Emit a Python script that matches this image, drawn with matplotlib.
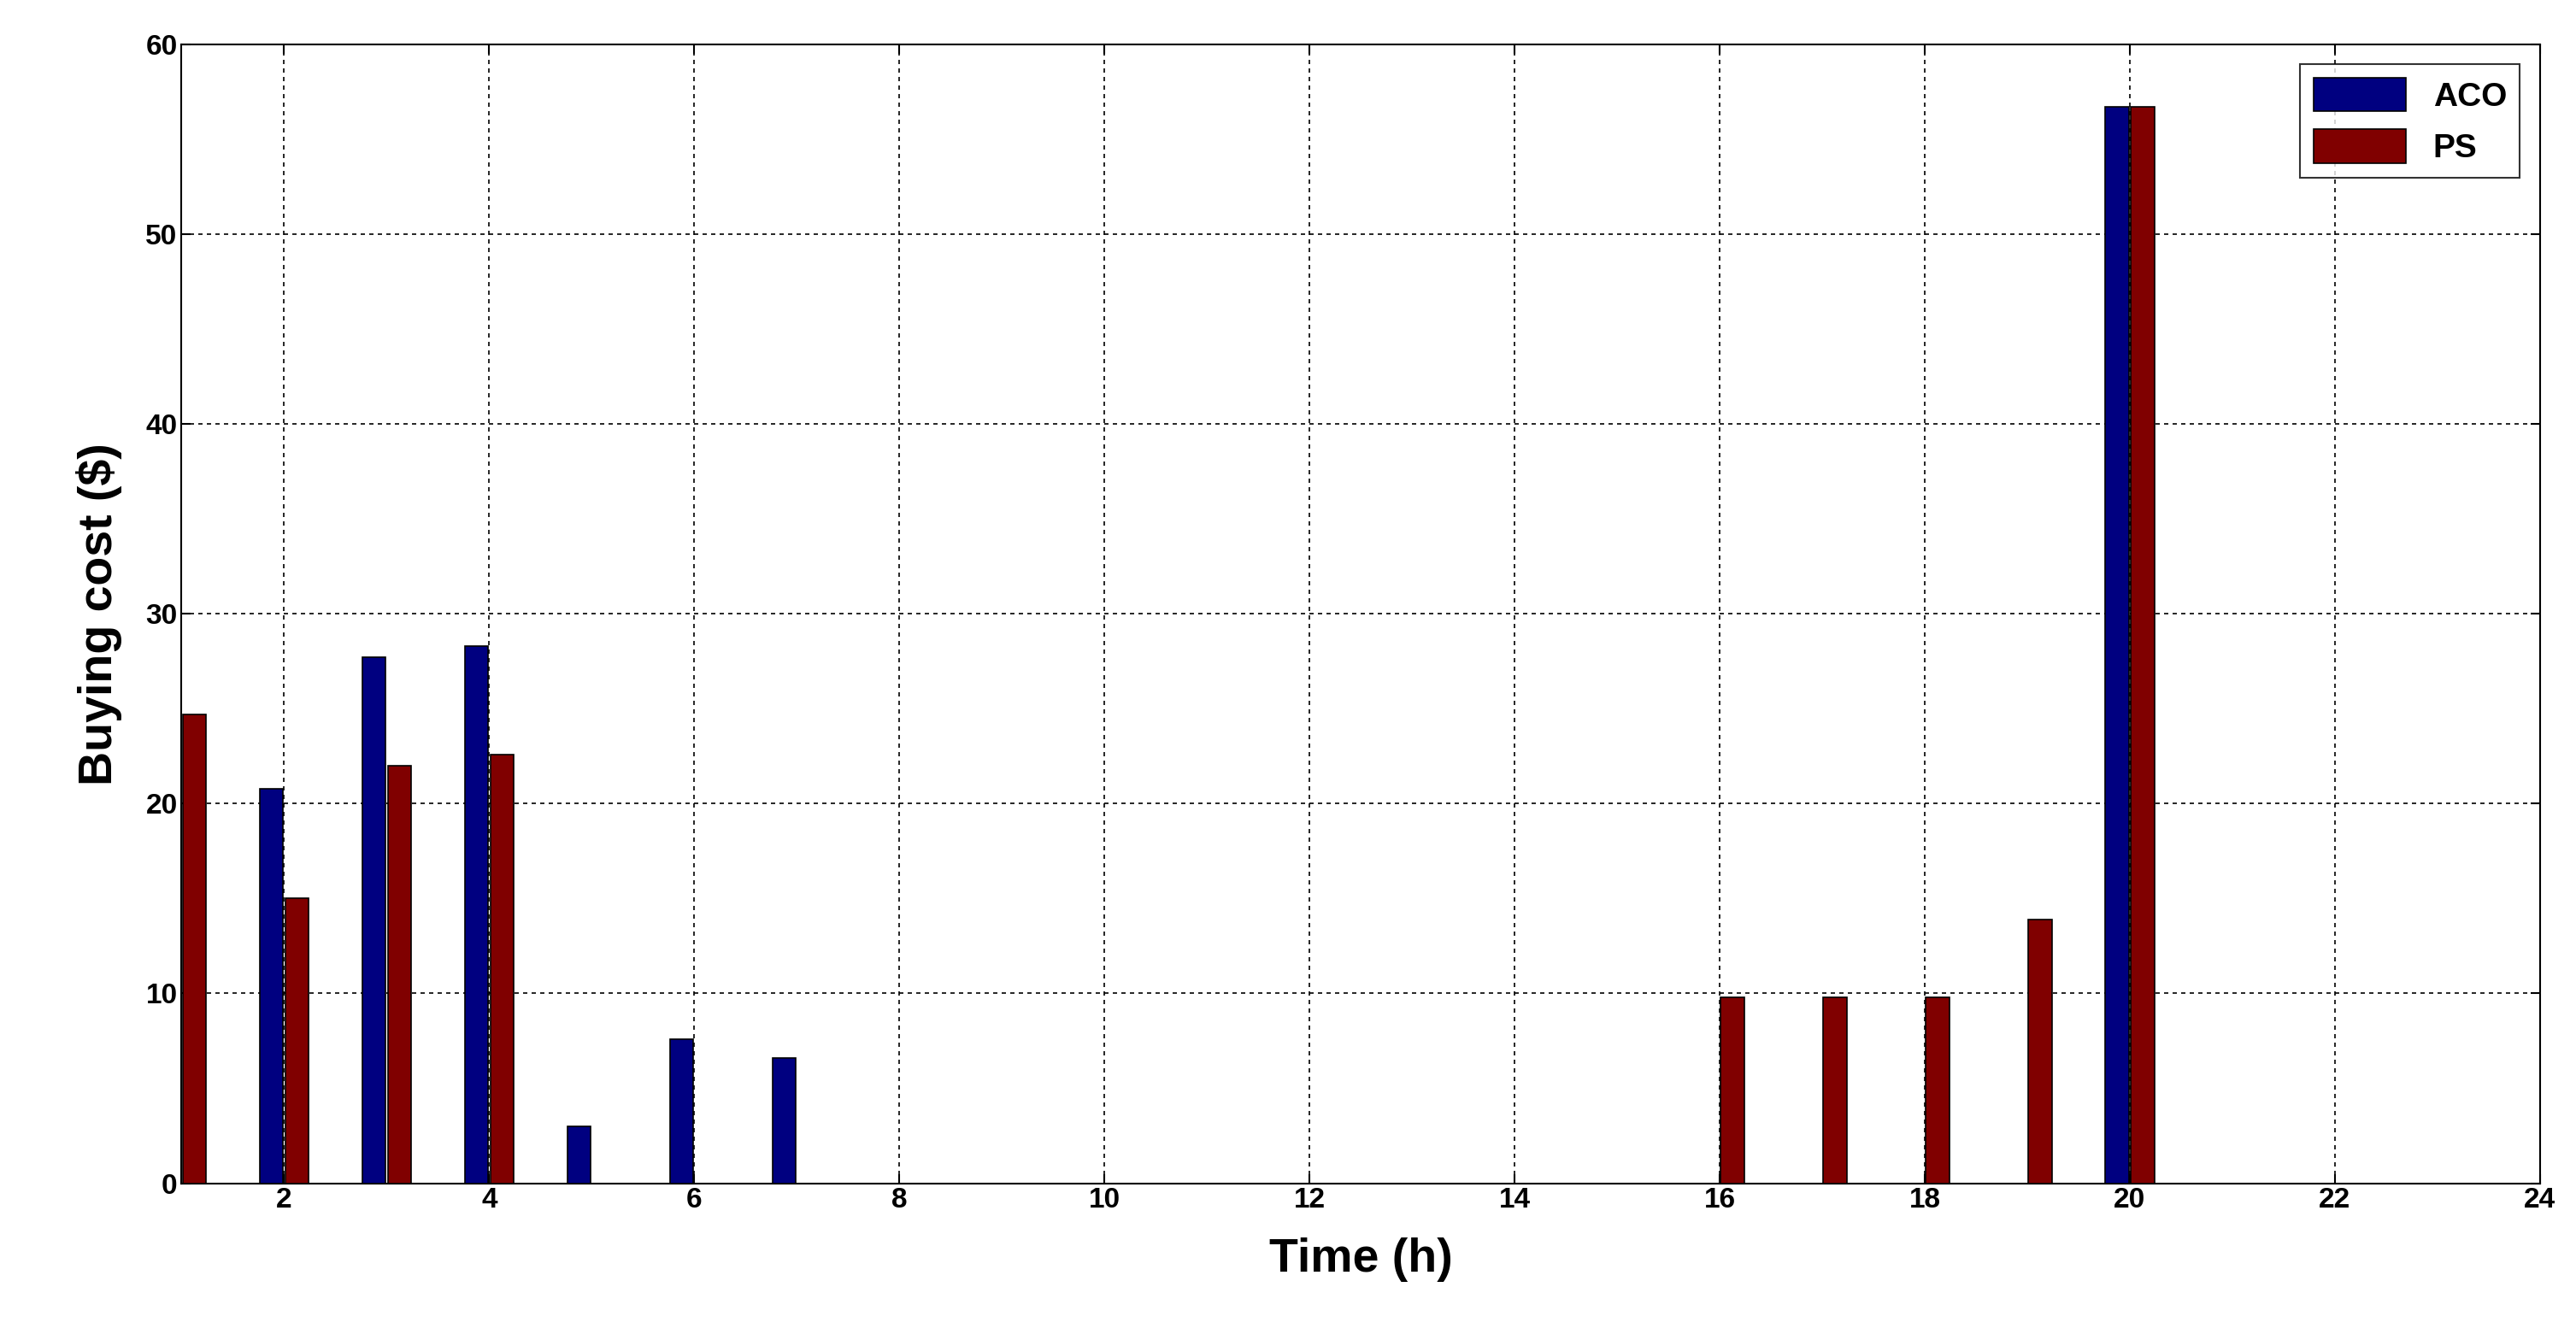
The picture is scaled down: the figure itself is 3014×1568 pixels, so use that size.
import matplotlib.pyplot as plt
import numpy as np

hours = np.arange(1, 25)
aco = [0, 20.8, 27.7, 28.3, 3.0, 7.6, 6.6, 0, 0, 0, 0, 0, 0, 0, 0, 0, 0, 0, 0, 56.7, 0, 0, 0, 0]
ps = [24.7, 15.0, 22.0, 22.6, 0, 0, 0, 0, 0, 0, 0, 0, 0, 0, 0, 9.8, 9.8, 9.8, 13.9, 56.7, 0, 0, 0, 0]

plt.rcParams['font.family'] = ['Liberation Sans', 'DejaVu Sans']
plt.rcParams['font.weight'] = 'bold'
fig = plt.figure(figsize=(30.14, 15.68), dpi=100)
ax = fig.add_axes([0.0705, 0.117, 0.9155, 0.85])

w = 0.23
aco_h = [v if v > 0 else np.nan for v in aco]
ps_h = [v if v > 0 else np.nan for v in ps]
ax.bar(hours - 0.125, aco_h, w, color='#000080', edgecolor='black', linewidth=1.2, label='ACO', zorder=3)
ax.bar(hours + 0.125, ps_h, w, color='#800000', edgecolor='black', linewidth=1.2, label='PS', zorder=3)

ax.set_xlim(1, 24)
ax.set_ylim(0, 60)
ax.set_xticks(range(2, 25, 2))
ax.set_yticks(range(0, 61, 10))
ax.tick_params(labelsize=24, direction='in', length=8, width=1.5, top=True, right=True)
for t in ax.get_xticklabels() + ax.get_yticklabels():
    t.set_fontweight('bold')
ax.grid(True, color='black', linestyle=(0, (3, 3)), linewidth=1.2, zorder=0)
for s in ax.spines.values():
    s.set_linewidth(1.5)
ax.set_xlabel('Time (h)', fontsize=40, fontweight='bold', labelpad=20)
ax.set_ylabel('Buying cost ($)', fontsize=40, fontweight='bold', labelpad=20)
leg = ax.legend(loc='upper right', fontsize=28, fancybox=False, edgecolor='black',
                handlelength=2.8, handleheight=1.2, borderaxespad=0.6)
leg.get_frame().set_linewidth(1.5)
for t in leg.get_texts():
    t.set_fontweight('bold')

plt.savefig('out.png')
